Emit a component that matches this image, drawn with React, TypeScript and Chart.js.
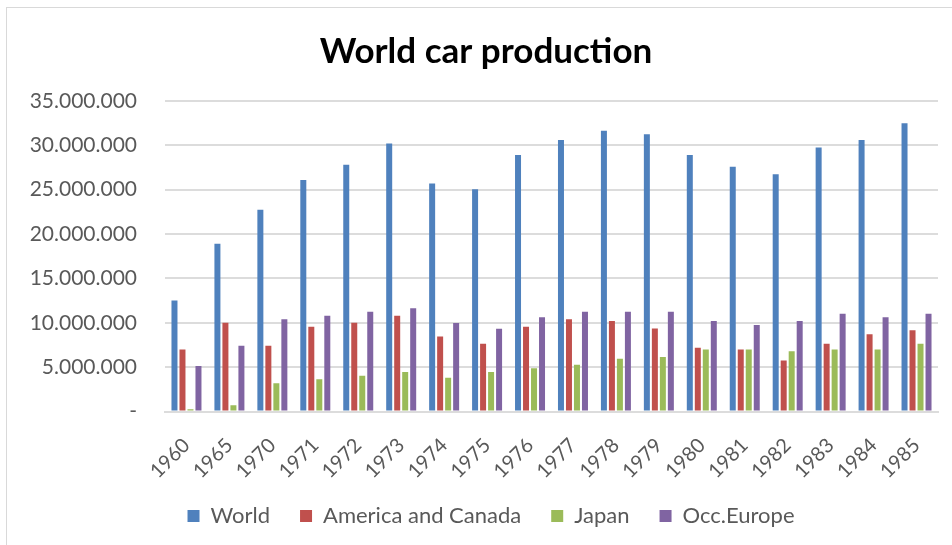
import React, { useEffect, useRef } from "react";
import { Chart, registerables } from "chart.js";

Chart.register(...registerables);

// Production years shown on the category axis
const years = [
  "1960", "1965", "1970", "1971", "1972", "1973", "1974", "1975", "1976",
  "1977", "1978", "1979", "1980", "1981", "1982", "1983", "1984", "1985",
];

// Cars produced per year
const world = [
  12500000, 18900000, 22750000, 26100000, 27800000, 30200000, 25700000, 25050000, 28900000,
  30600000, 31650000, 31250000, 28900000, 27600000, 26750000, 29750000, 30600000, 32500000,
];
const americaCanada = [
  7000000, 10000000, 7400000, 9550000, 10000000, 10800000, 8450000, 7650000, 9550000,
  10400000, 10200000, 9350000, 7200000, 7000000, 5750000, 7650000, 8700000, 9150000,
];
const japan = [
  250000, 700000, 3180000, 3630000, 4040000, 4450000, 3800000, 4450000, 4870000,
  5280000, 5950000, 6150000, 7000000, 7000000, 6800000, 7000000, 7000000, 7650000,
];
const occEurope = [
  5130000, 7420000, 10400000, 10800000, 11250000, 11650000, 9970000, 9340000, 10620000,
  11250000, 11250000, 11250000, 10200000, 9750000, 10200000, 11030000, 10620000, 11030000,
];

// Value axis ticks
const yMax = 35000000;
const yStep = 5000000;

const FONT = "Lato, 'Liberation Sans', sans-serif";
const GREY_TEXT = "#595959";
const GRID = "#dcdcdc";

function formatThousands(v: number): string {
  if (v === 0) return "-";
  return Math.round(v).toString().replace(/\B(?=(\d{3})+(?!\d))/g, ".");
}

// Centres the title and legend a little right of the canvas middle, and lets the
// slanted year labels run below the category axis box without being clipped
const layoutTweaks = {
  id: "layoutTweaks",
  afterLayout(chart: any) {
    const lg = chart.legend;
    if (lg) {
      lg.left += 22;
      lg.right += 22;
    }
    const tb = chart.titleBlock;
    if (tb) {
      tb.left += 17;
      tb.right += 17;
    }
    const x = chart.scales.x;
    if (x) x.bottom += 40;
  },
};

export default function App() {
  const canvasRef = useRef<HTMLCanvasElement | null>(null);

  useEffect(() => {
    const canvas = canvasRef.current;
    if (!canvas) return;
    const chart = new Chart(canvas, {
      type: "bar",
      data: {
        labels: years,
        datasets: [
          { label: "World", data: world, backgroundColor: "#4F81BD" },
          { label: "America and Canada", data: americaCanada, backgroundColor: "#C0504D" },
          { label: "Japan", data: japan, backgroundColor: "#9BBB59" },
          { label: "Occ.Europe", data: occEurope, backgroundColor: "#8064A2" },
        ],
      },
      plugins: [layoutTweaks],
      options: {
        responsive: false,
        animation: false,
        devicePixelRatio: 1,
        layout: { padding: { left: 0, right: 14, top: 0, bottom: 8 } },
        datasets: {
          bar: { categoryPercentage: 0.745, barPercentage: 0.75, borderWidth: 0 },
        },
        plugins: {
          title: {
            display: true,
            text: "World car production",
            color: "#000000",
            font: { family: FONT, size: 35, weight: "bold" },
            padding: { top: 31, bottom: 28 },
          },
          legend: {
            position: "bottom",
            labels: {
              boxWidth: 12,
              boxHeight: 12,
              padding: 30,
              color: GREY_TEXT,
              font: { family: FONT, size: 22 },
            },
          },
          tooltip: { enabled: false },
        },
        scales: {
          x: {
            grid: { display: false },
            border: { display: true, color: GRID, width: 2 },
            ticks: {
              minRotation: 45,
              maxRotation: 45,
              color: GREY_TEXT,
              font: { family: FONT, size: 20 },
              padding: 14,
            },
            afterFit: (scale: any) => {
              scale.height = 63.5;
            },
          },
          y: {
            min: 0,
            max: yMax,
            grid: { color: GRID, lineWidth: 2, drawTicks: false },
            border: { display: false },
            ticks: {
              stepSize: yStep,
              color: GREY_TEXT,
              font: { family: FONT, size: 21 },
              padding: 28,
              callback: (v: any) => formatThousands(Number(v)),
            },
            afterFit: (scale: any) => {
              scale.width = 165;
            },
          },
        },
      },
    });
    return () => chart.destroy();
  }, []);

  return (
    <div style={{ position: "fixed", left: 0, top: 0, width: 952, height: 545, overflow: "hidden", background: "#ffffff" }}>
      <div
        style={{
          position: "absolute",
          left: 6,
          top: 7,
          width: 960,
          height: 600,
          border: "1px solid #d9d9d9",
        }}
      />
      <canvas
        ref={canvasRef}
        width={952}
        height={545}
        style={{ position: "absolute", left: 0, top: 0, width: 952, height: 545 }}
      />
    </div>
  );
}
